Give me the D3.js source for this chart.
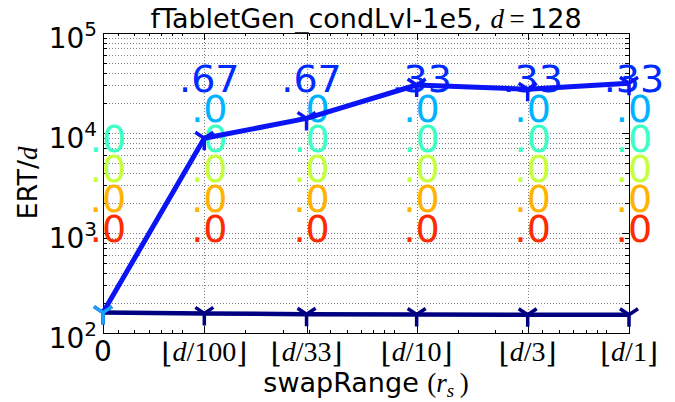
<!DOCTYPE html>
<html>
<head>
<meta charset="utf-8">
<script src="https://cdn.jsdelivr.net/npm/d3@7"></script>
<style>
  body { margin: 0; background: #fff; }
  svg { display: block; }
  text { font-family: "DejaVu Sans", sans-serif; }
  .math { font-family: "Liberation Serif", "DejaVu Serif", serif; }
</style>
</head>
<body>
<svg width="675" height="402"></svg>
<script>
// problem dimension and swapRange columns (x sits at d / divisor, "0" one step left of d/100)
const dim = 128;
const divisors = [300, 100, 33, 10, 3, 1];
const tickDivs = [null, 100, 33, 10, 3, 1];

// ERT/d per column
const ertNavy = [160, 157, 154, 153, 152, 152];
const ertBlue = [160, 8850, 14000, 30200, 27400, 31400];

// fraction labels stacked above each column (bottom to top)
const fracLabels = [
  [".0", ".0", ".0", ".0"],
  [".0", ".0", ".0", ".0", ".0", ".67"],
  [".0", ".0", ".0", ".0", ".0", ".67"],
  [".0", ".0", ".0", ".0", ".0", ".33"],
  [".0", ".0", ".0", ".0", ".0", ".33"],
  [".0", ".0", ".0", ".0", ".0", ".33"]
];
const fracColors = ["#ff2b00", "#ffb300", "#c4ff3b", "#3bffc4", "#00b3ff", "#002bff"];

const yDecades = [2, 3, 4, 5];

const svg = d3.select("svg");
const pL = 103, pR = 629, pT = 33, pB = 333;

const xv = divisors.map(k => dim / k);
const x = d3.scaleLog().domain([dim / 300, dim]).range([pL, pR]);
const y = d3.scaleLog().domain([100, 1e5]).range([pB, pT]);

// grid
const grid = svg.append("g")
    .attr("stroke", "#808080").attr("stroke-width", 1).attr("stroke-dasharray", "1,2");
grid.selectAll(".hg").data(y.ticks()).enter().append("line")
    .attr("x1", pL).attr("x2", pR)
    .attr("y1", d => Math.round(y(d)) + 0.5).attr("y2", d => Math.round(y(d)) + 0.5);
grid.selectAll(".vg").data(xv.slice(1, -1)).enter().append("line")
    .attr("y1", pT).attr("y2", pB)
    .attr("x1", d => Math.round(x(d)) + 0.5).attr("x2", d => Math.round(x(d)) + 0.5);

// ticks (inward, both sides)
const tk = svg.append("g").attr("stroke", "#000").attr("stroke-width", 1);
y.ticks().forEach(d => {
  const major = Math.abs(Math.log10(d) - Math.round(Math.log10(d))) < 1e-9;
  const len = major ? 7 : 4, yy = Math.round(y(d)) + 0.5;
  tk.append("line").attr("x1", pL).attr("x2", pL + len).attr("y1", yy).attr("y2", yy);
  tk.append("line").attr("x1", pR).attr("x2", pR - len).attr("y1", yy).attr("y2", yy);
});
x.ticks().filter(d => d > dim / 300 && d < dim).forEach(d => {
  const xx = Math.round(x(d)) + 0.5;
  tk.append("line").attr("x1", xx).attr("x2", xx).attr("y1", pB).attr("y2", pB - 3);
  tk.append("line").attr("x1", xx).attr("x2", xx).attr("y1", pT).attr("y2", pT + 3);
});
xv.forEach(d => {
  const xx = Math.round(x(d)) + 0.5;
  tk.append("line").attr("x1", xx).attr("x2", xx).attr("y1", pB).attr("y2", pB - 7);
  tk.append("line").attr("x1", xx).attr("x2", xx).attr("y1", pT).attr("y2", pT + 7);
});

// frame
svg.append("rect").attr("x", pL + 0.5).attr("y", pT + 0.5)
    .attr("width", pR - pL).attr("height", pB - pT)
    .attr("fill", "none").attr("stroke", "#000").attr("stroke-width", 1);

// fraction labels
const rowBase = 241.5, rowStep = 30;
fracLabels.forEach((col, i) => {
  col.forEach((t, j) => {
    svg.append("text")
        .attr("x", x(xv[i]) + 5)
        .attr("y", rowBase - rowStep * j)
        .attr("text-anchor", "middle")
        .attr("font-size", 38)
        .attr("fill", fracColors[j])
        .text(t);
  });
});

// lines + tri_down markers
const line = d3.line().x((d, i) => x(xv[i])).y(d => y(d));
const tri = "M0,0L0,12M0,0L-9,-6M0,0L9,-6";

function series(vals, color, width, markColors) {
  svg.append("path").datum(vals)
      .attr("d", line).attr("fill", "none")
      .attr("stroke", color).attr("stroke-width", width)
      .attr("stroke-linejoin", "round");
  svg.selectAll(null).data(vals).enter().append("path")
      .attr("d", tri)
      .attr("transform", (d, i) => `translate(${x(xv[i])},${y(d)})`)
      .attr("fill", "none")
      .attr("stroke", (d, i) => markColors[i])
      .attr("stroke-width", 3.5);
}
series(ertNavy, "#000080", 4.5, ertNavy.map(() => "#000080"));
series(ertBlue, "#0a14f5", 5, ertBlue.map((d, i) => i === 0 ? "#1aa3ff" : "#0a14f5"));

// y tick labels
yDecades.forEach(p => {
  const t = svg.append("text")
      .attr("x", 97).attr("y", y(Math.pow(10, p)) + 15)
      .attr("text-anchor", "end").attr("font-size", 28);
  t.append("tspan").text("10");
  t.append("tspan").attr("font-size", 20).attr("dy", -12).text(p);
});

// x tick labels
tickDivs.forEach((k, i) => {
  const t = svg.append("text")
      .attr("x", x(xv[i])).attr("y", 361)
      .attr("text-anchor", "middle").attr("font-size", 28);
  if (k === null) { t.text("0"); return; }
  t.attr("class", "math");
  t.append("tspan").attr("font-family", "DejaVu Serif").attr("dy", 2).text("\u230A");
  t.append("tspan").attr("font-style", "italic").attr("dy", -2).text("d");
  t.append("tspan").text("/" + k);
  t.append("tspan").attr("font-family", "DejaVu Serif").attr("dy", 2).text("\u230B");
});

// title
const title = svg.append("text")
    .attr("x", (pL + pR) / 2).attr("y", 28)
    .attr("text-anchor", "middle").attr("font-size", 27);
title.append("tspan").text("fTabletGen_condLvl-1e5, ");
title.append("tspan").attr("class", "math").attr("font-style", "italic").text("d");
title.append("tspan").attr("class", "math").text("\u2009=\u2009");
title.append("tspan").text("128");

// x label
const xl = svg.append("text")
    .attr("x", (pL + pR) / 2).attr("y", 392)
    .attr("text-anchor", "middle").attr("font-size", 27);
xl.append("tspan").text("swapRange ");
xl.append("tspan").attr("class", "math").text("(");
xl.append("tspan").attr("class", "math").attr("font-style", "italic").text("r");
xl.append("tspan").attr("class", "math").attr("font-style", "italic")
    .attr("font-size", 19).attr("dy", 5).text("s");
xl.append("tspan").attr("class", "math").attr("dy", -5).text("\u2009)");

// y label
const yl = svg.append("text")
    .attr("transform", `translate(37,${(pT + pB) / 2}) rotate(-90)`)
    .attr("text-anchor", "middle").attr("font-size", 27);
yl.append("tspan").text("ERT/");
yl.append("tspan").attr("class", "math").attr("font-style", "italic").text("d");
</script>
</body>
</html>
